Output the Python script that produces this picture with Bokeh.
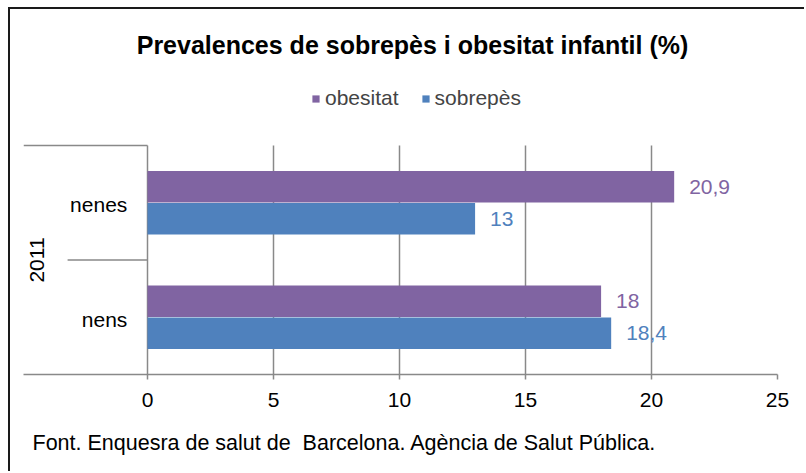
from bokeh.plotting import figure
from bokeh.models import (Range1d, FixedTicker, ColumnDataSource, Title, Label,
                          Legend, LegendItem)
from bokeh.core.properties import value
from bokeh.embed import file_html
from bokeh.resources import INLINE

# ---- data ----
title_text = "Prevalences de sobrepès i obesitat infantil (%)"
source_text = "Font. Enquesra de salut de \u00a0Barcelona. Agència de Salut Pública."
year = "2011"
categories = ["nens", "nenes"]          # bottom to top
obesitat = [18.0, 20.9]
sobrepes = [18.4, 13.0]
series_names = ["obesitat", "sobrepès"]
x_ticks = [0, 5, 10, 15, 20, 25]

FONT = "Liberation Sans"
PURPLE = "#8064A2"
BLUE = "#4F81BD"
GRAY = "#898989"
FS = "21px"

def fmt(v):
    return ("%g" % v).replace(".", ",")

n = len(categories)
ypos = [i + 0.5 for i in range(n)]          # category centres on the value scale
DODGE = 0.14
BAR_H = 0.275

p = figure(width=796, height=464, output_backend="svg", toolbar_location=None,
           x_range=Range1d(-4.92, 25), y_range=Range1d(0, n * 365 / 229),
           min_border_left=13, min_border_right=29, min_border_top=0, min_border_bottom=99,
           title=None)
p.margin = (7, 0, 0, 8)
p.styles = {"border-left": "2px solid #1a1a1a", "border-top": "2px solid #1a1a1a"}
p.outline_line_color = None
p.background_fill_color = "white"
p.border_fill_color = "white"

src = ColumnDataSource(dict(
    cat=categories,
    y_ob=[y + DODGE for y in ypos], y_sb=[y - DODGE for y in ypos], y=ypos,
    obes=obesitat, sobre=sobrepes,
    obes_lbl=[fmt(v) for v in obesitat], sobre_lbl=[fmt(v) for v in sobrepes],
))

r_ob = p.hbar(y="y_ob", left=0, right="obes", height=BAR_H, source=src,
              fill_color=PURPLE, line_color=None)
r_sb = p.hbar(y="y_sb", left=0, right="sobre", height=BAR_H, source=src,
              fill_color=BLUE, line_color=None)

p.text(x="obes", y="y_ob", text="obes_lbl", source=src, x_offset=15,
       text_baseline="middle", text_align="left", text_color=PURPLE,
       text_font=value(FONT), text_font_size=FS)
p.text(x="sobre", y="y_sb", text="sobre_lbl", source=src, x_offset=15,
       text_baseline="middle", text_align="left", text_color=BLUE,
       text_font=value(FONT), text_font_size=FS)

# category axis (nested labels drawn left of value 0)
p.text(x=-0.8, y="y", text="cat", source=src, y_offset=2, text_baseline="middle",
       text_align="right", text_color="black", text_font=value(FONT), text_font_size=FS)
p.text(x=[-4.37], y=[n / 2], text=[year], angle=1.5708, text_baseline="middle",
       text_align="center", text_color="black", text_font=value(FONT), text_font_size=FS)
p.segment(x0=[-4.92, -3.17], x1=[0, 0], y0=[float(n), n / 2], y1=[float(n), n / 2],
          line_color=GRAY, line_width=1.5)

# axes & grid
p.yaxis.visible = False
p.ygrid.visible = False
p.xaxis.ticker = FixedTicker(ticks=x_ticks)
p.xgrid.ticker = FixedTicker(ticks=x_ticks)
p.xgrid.grid_line_color = GRAY
p.xgrid.grid_line_width = 1.5
try:
    p.xgrid.cross_bounds = (0, float(n))
except Exception:
    p.xgrid.visible = False
    p.segment(x0=x_ticks, x1=x_ticks, y0=[0] * len(x_ticks), y1=[float(n)] * len(x_ticks),
              line_color=GRAY, line_width=1.5)
p.xaxis.axis_line_color = GRAY
p.xaxis.axis_line_width = 1.5
p.xaxis.major_tick_line_color = GRAY
p.xaxis.major_tick_line_width = 1.5
p.xaxis.major_tick_out = 5
p.xaxis.major_tick_in = 0
p.xaxis.minor_tick_line_color = None
p.xaxis.major_label_text_font = FONT
p.xaxis.major_label_text_font_size = FS
p.xaxis.major_label_text_color = "black"
p.xaxis.major_label_standoff = 13

# source line below the axis
p.add_layout(Title(text=source_text, align="left", offset=9, standoff=38,
                   text_font=FONT, text_font_size="21.5px", text_font_style="normal",
                   text_color="black"), "below")

# legend (inside the frame, above the bars)
legend = Legend(items=[LegendItem(label=series_names[0], renderers=[r_ob]),
                       LegendItem(label=series_names[1], renderers=[r_sb])],
                orientation="horizontal", location=(288, 264),
                border_line_color=None, background_fill_alpha=0,
                padding=0, margin=0, spacing=22, label_standoff=5,
                glyph_width=9, glyph_height=9,
                label_text_font=FONT, label_text_font_size=FS)
p.add_layout(legend, "center")

# main title
p.add_layout(Label(x=389, y=330, x_units="screen", y_units="screen", text=title_text,
                   text_align="center", text_baseline="middle", text_font=FONT,
                   text_font_size="25px", text_font_style="bold", text_color="black"))

open("out.html", "w").write(file_html(p, INLINE))
